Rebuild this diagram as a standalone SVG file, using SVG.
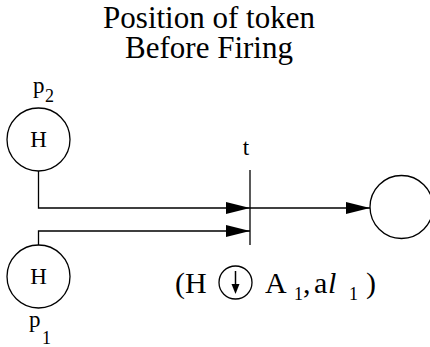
<svg xmlns="http://www.w3.org/2000/svg" width="430" height="347" viewBox="0 0 430 347">
<style>
text{font-family:'Liberation Serif','Times New Roman',serif;fill:#000}
.node{fill:#fff;stroke:#000;stroke-width:1.3}
.edge{fill:none;stroke:#000;stroke-width:1.3}
.title{font-size:31px;text-anchor:middle}
.lbl{font-size:23px}
.sub{font-size:18px}
.big{font-size:30px}
</style>
<defs>
<marker id="arr" viewBox="0 0 24 12" refX="24" refY="6" markerWidth="24" markerHeight="12" markerUnits="userSpaceOnUse" orient="auto">
<path d="M0,0 L24,6 L0,12 Z" fill="#000"/>
</marker>
</defs>
<rect width="430" height="347" fill="#fff"/>
<g id="title">
<text class="title" x="209" y="28">Position of token</text>
<text class="title" x="209" y="58">Before Firing</text>
</g>
<g id="connectors">
<path class="edge" d="M38.5,171 V208 H250" marker-end="url(#arr)"/>
<path class="edge" d="M38.5,245 V231 H250" marker-end="url(#arr)"/>
<path class="edge" d="M250,208 H370" marker-end="url(#arr)"/>
</g>
<g id="p2">
<circle class="node" cx="38.5" cy="139.5" r="31.5"/>
<text class="lbl" x="38.5" y="147" text-anchor="middle">H</text>
<text class="lbl" x="33" y="93">p</text>
<text class="sub" x="45" y="102">2</text>
</g>
<g id="p1">
<circle class="node" cx="38.5" cy="276.5" r="31.5"/>
<text class="lbl" x="38.5" y="284" text-anchor="middle">H</text>
<text class="lbl" x="29" y="327">p</text>
<text class="sub" x="42" y="344">1</text>
</g>
<g id="t">
<line class="edge" x1="250" y1="170" x2="250" y2="245"/>
<text class="lbl" x="246" y="155" text-anchor="middle">t</text>
</g>
<g id="p3">
<circle class="node" cx="401.5" cy="207" r="31.5"/>
</g>
<g id="label">
<text class="big" x="175" y="293">(H</text>
<circle cx="235.5" cy="282.5" r="16.5" fill="none" stroke="#000" stroke-width="1.3"/>
<line x1="235.5" y1="271" x2="235.5" y2="286" stroke="#000" stroke-width="1.5"/>
<path d="M231.5,284 L239.5,284 L235.5,294 Z" fill="#000"/>
<text class="big" x="265" y="293">A</text>
<text class="sub" x="294" y="300">1</text>
<text class="big" x="303" y="293">,</text>
<text class="big" x="314" y="293">a</text>
<text class="big" x="328" y="293" font-style="italic">l</text>
<text class="sub" x="349" y="300">1</text>
<text class="big" x="366" y="293">)</text>
</g>
</svg>
